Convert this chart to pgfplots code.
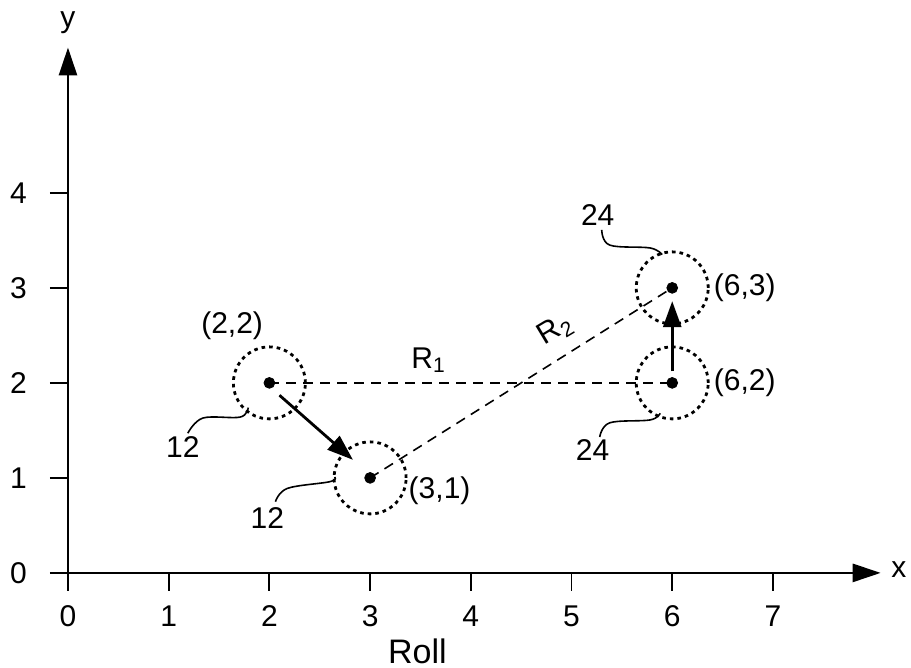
\documentclass[border=0pt]{standalone}
\usepackage{pgfplots}
\pgfplotsset{compat=1.18}
\usetikzlibrary{arrows.meta}
\usepackage{fontspec}
\setmainfont{Liberation Sans}

\begin{document}
\begin{tikzpicture}
\begin{axis}[
  x=50.35pt, y=47.5pt,
  xmin=0, xmax=8.07, ymin=0, ymax=5.53,
  enlargelimits=false,
  axis lines=left,
  axis line style={line width=1.4pt, -{Triangle[length=14pt,width=9pt]}},
  xtick={0,...,7}, ytick={0,...,4},
  tick align=outside,
  major tick length=9pt,
  xtick style={line width=0.9pt, black},
  ytick style={line width=1.1pt, black},
  /pgf/number format/assume math mode=true,
  ticklabel style={font=\fontsize{15}{17}\selectfont},
  x tick label style={yshift=-4pt},
  y tick label style={xshift=-8pt},
  clip=false,
]
  % circles around the four positions
  \addplot[only marks, mark=o, mark size=18pt,
    mark options={line width=1.4pt, dash pattern=on 1.8pt off 2pt}]
    coordinates {(2,2) (3,1) (6,2) (6,3)};
  % dashed links
  \addplot[line width=0.8pt, dash pattern=on 5pt off 3.5pt] coordinates {(2,2) (6,2)};
  \addplot[line width=0.8pt, dash pattern=on 5pt off 3.5pt] coordinates {(3,1) (6,3)};
  % centre points
  \addplot[only marks, mark=*, mark size=2.7pt] coordinates {(2,2) (3,1) (6,2) (6,3)};
  % moves
  \addplot[line width=1.4pt, -{Triangle[length=13pt,width=9pt]}] coordinates {(2.1,1.87) (2.83,1.19)};
  \addplot[line width=1.4pt, -{Triangle[length=13pt,width=9pt]}] coordinates {(6,2.12) (6,2.86)};

  % leader lines
  \draw[line width=0.8pt, smooth, tension=0.6] plot coordinates {(1.19,1.47) (1.34,1.63) (1.71,1.64) (1.79,1.74)};
  \draw[line width=0.8pt, smooth, tension=0.6] plot coordinates {(2.06,0.75) (2.18,0.89) (2.6,0.96) (2.65,1.01)};
  \draw[line width=0.8pt, smooth, tension=0.6] plot coordinates {(5.30,3.61) (5.38,3.45) (5.78,3.42) (5.90,3.35)};
  \draw[line width=0.8pt, smooth, tension=0.6] plot coordinates {(5.28,1.43) (5.38,1.58) (5.78,1.61) (5.88,1.68)};

  \begin{scope}[every node/.style={font=\fontsize{15}{17}\selectfont, inner sep=0pt}]
    \node at (0,5.79) {y};
    \node at (8.25,0.03) {x};
    \node at (1.63,2.6) {(2,2)};
    \node at (3.69,0.87) {(3,1)};
    \node at (6.72,3.0) {(6,3)};
    \node at (6.72,2.0) {(6,2)};
    \node at (1.14,1.32) {12};
    \node at (1.98,0.58) {12};
    \node at (5.26,3.77) {24};
    \node at (5.21,1.29) {24};
    \node at (3.58,2.24) {R\textsubscript{1}};
    \node[rotate=31] at (4.84,2.56) {R\textsubscript{2}};
  \end{scope}
  \node[font=\fontsize{17}{20}\selectfont, inner sep=0pt, anchor=base] at (3.47,-0.955) {Roll};

  \coordinate (bl) at (-0.675,-1.0);
  \coordinate (tr) at (8.371,6.03);
\end{axis}
\useasboundingbox (bl) rectangle (tr);
\end{tikzpicture}
\end{document}
